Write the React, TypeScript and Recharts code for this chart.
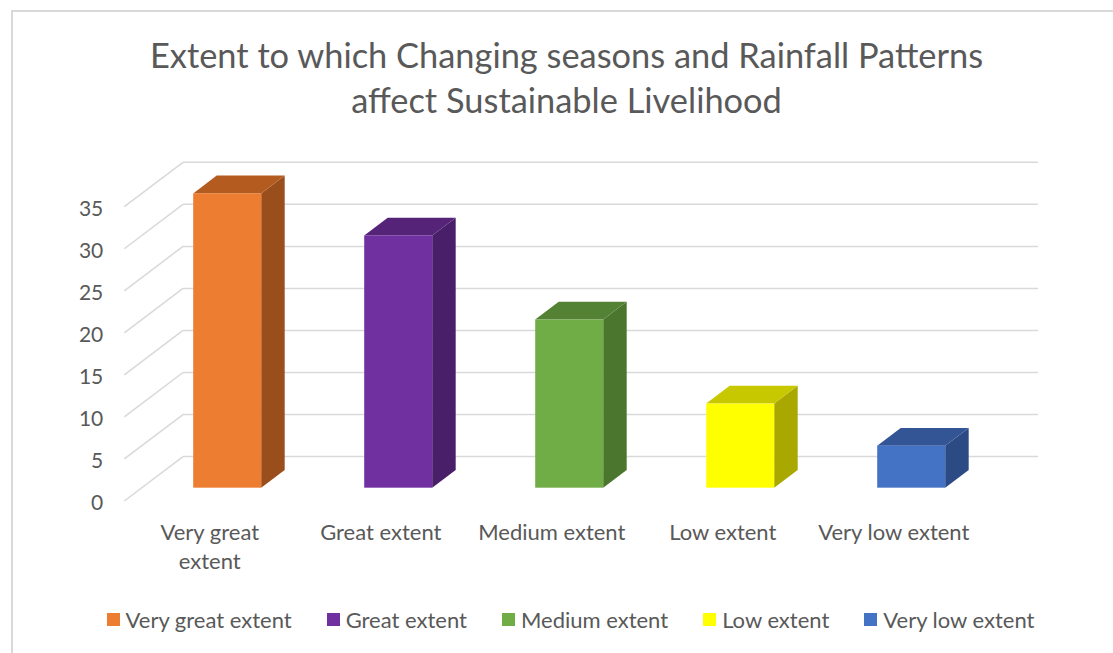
import React from 'react';
import { BarChart, Bar, XAxis, YAxis, CartesianGrid, Legend, Text } from 'recharts';

const categories = ['Very great extent', 'Great extent', 'Medium extent', 'Low extent', 'Very low extent'];
const values = [35, 30, 20, 10, 5];
const yTicks = [0, 5, 10, 15, 20, 25, 30, 35];
const frontColors = ['#ED7D31', '#7030A0', '#70AD47', '#FFFF00', '#4472C4'];
const topColors = ['#B45B20', '#552478', '#548235', '#C8C800', '#335595'];
const sideColors = ['#9A4E1C', '#4A1F69', '#4A762E', '#A8A800', '#2C4B85'];

const data = categories.map((name, i) => ({ name, value: values[i], idx: i }));

const FONT = 'Lato, "Open Sans", sans-serif';
const TEXT_COLOR = '#595959';
const GRID_COLOR = '#d9d9d9';

// offset from the front edge of the floor to the back wall
const DEPTH_X = 58.7;
const DEPTH_Y = -44.4;

const gridLine = (p: any) => {
  const { x1, y1, x2, y2 } = p;
  return (
    <g key={`grid-${y1}`}>
      <line x1={x1} y1={y1} x2={x1 + DEPTH_X} y2={y1 + DEPTH_Y} stroke={GRID_COLOR} strokeWidth={1.5} />
      <line x1={x1 + DEPTH_X} y1={y1 + DEPTH_Y} x2={x2 + DEPTH_X} y2={y2 + DEPTH_Y} stroke={GRID_COLOR} strokeWidth={1.5} />
    </g>
  );
};

// 3d column: front face sits 30% into the floor, box is 40% deep
const Box = (props: any) => {
  const { x, y, width, height, payload } = props;
  const i = payload?.idx ?? 0;
  const fx = x + DEPTH_X * 0.3;
  const fy = y + DEPTH_Y * 0.3;
  const dx = DEPTH_X * 0.4;
  const dy = DEPTH_Y * 0.4;
  const top = `${fx},${fy} ${fx + width},${fy} ${fx + width + dx},${fy + dy} ${fx + dx},${fy + dy}`;
  const side = `${fx + width},${fy} ${fx + width + dx},${fy + dy} ${fx + width + dx},${fy + height + dy} ${fx + width},${fy + height}`;
  return (
    <g>
      <polygon points={side} fill={sideColors[i]} />
      <polygon points={top} fill={topColors[i]} />
      <rect x={fx} y={fy} width={width} height={height} fill={frontColors[i]} />
    </g>
  );
};

const CategoryTick = (props: any) => {
  const { x, y, payload } = props;
  return (
    <Text
      x={x}
      y={y + 15}
      width={155}
      textAnchor="middle"
      verticalAnchor="start"
      lineHeight={29}
      fill={TEXT_COLOR}
      fontSize={22}
      fontFamily={FONT}
      style={{ fontSize: '22px', fontFamily: FONT }}
    >
      {payload.value}
    </Text>
  );
};

const LegendContent = () => (
  <div style={{ display: 'flex', justifyContent: 'center', gap: 35, fontFamily: FONT, fontSize: 22, color: TEXT_COLOR }}>
    {categories.map((c, i) => (
      <div key={c} style={{ display: 'flex', alignItems: 'center' }}>
        <span style={{ width: 13, height: 13, background: frontColors[i], marginRight: 6, display: 'inline-block' }} />
        <span>{c}</span>
      </div>
    ))}
  </div>
);

export default function App() {
  return (
    <div style={{ position: 'absolute', left: 0, top: 0, width: 1113, height: 653, overflow: 'hidden', background: '#fff' }}>
      <div style={{ position: 'absolute', left: 11, top: 10, width: 1120, height: 660, border: `2px solid ${GRID_COLOR}` }} />
      <div
        style={{
          position: 'absolute', left: 0, top: 32, width: 1133, textAlign: 'center',
          fontFamily: FONT, fontSize: 34.4, lineHeight: '45px', color: TEXT_COLOR,
        }}
      >
        Extent to which Changing seasons and Rainfall Patterns
        <br />
        affect Sustainable Livelihood
      </div>
      <BarChart
        width={1113}
        height={653}
        data={data}
        margin={{ top: 206.7, right: 133.7, bottom: 122, left: 64.3 }}
        barCategoryGap="30%"
      >
        <CartesianGrid vertical={false} horizontal={gridLine} />
        <XAxis dataKey="name" height={30} axisLine={false} tickLine={false} interval={0} tick={<CategoryTick />} />
        <YAxis
          domain={[0, 35]}
          ticks={yTicks}
          interval={0}
          width={60}
          axisLine={false}
          tickLine={false}
          tickMargin={15}
          tick={{ fontSize: 21, fill: TEXT_COLOR, fontFamily: FONT, dy: 2 }}
        />
        <Legend
          layout="horizontal"
          verticalAlign="middle"
          align="center"
          wrapperStyle={{ top: 606, left: 0, width: 1141 }}
          content={<LegendContent />}
        />
        <Bar dataKey="value" shape={<Box />} isAnimationActive={false} />
      </BarChart>
    </div>
  );
}
